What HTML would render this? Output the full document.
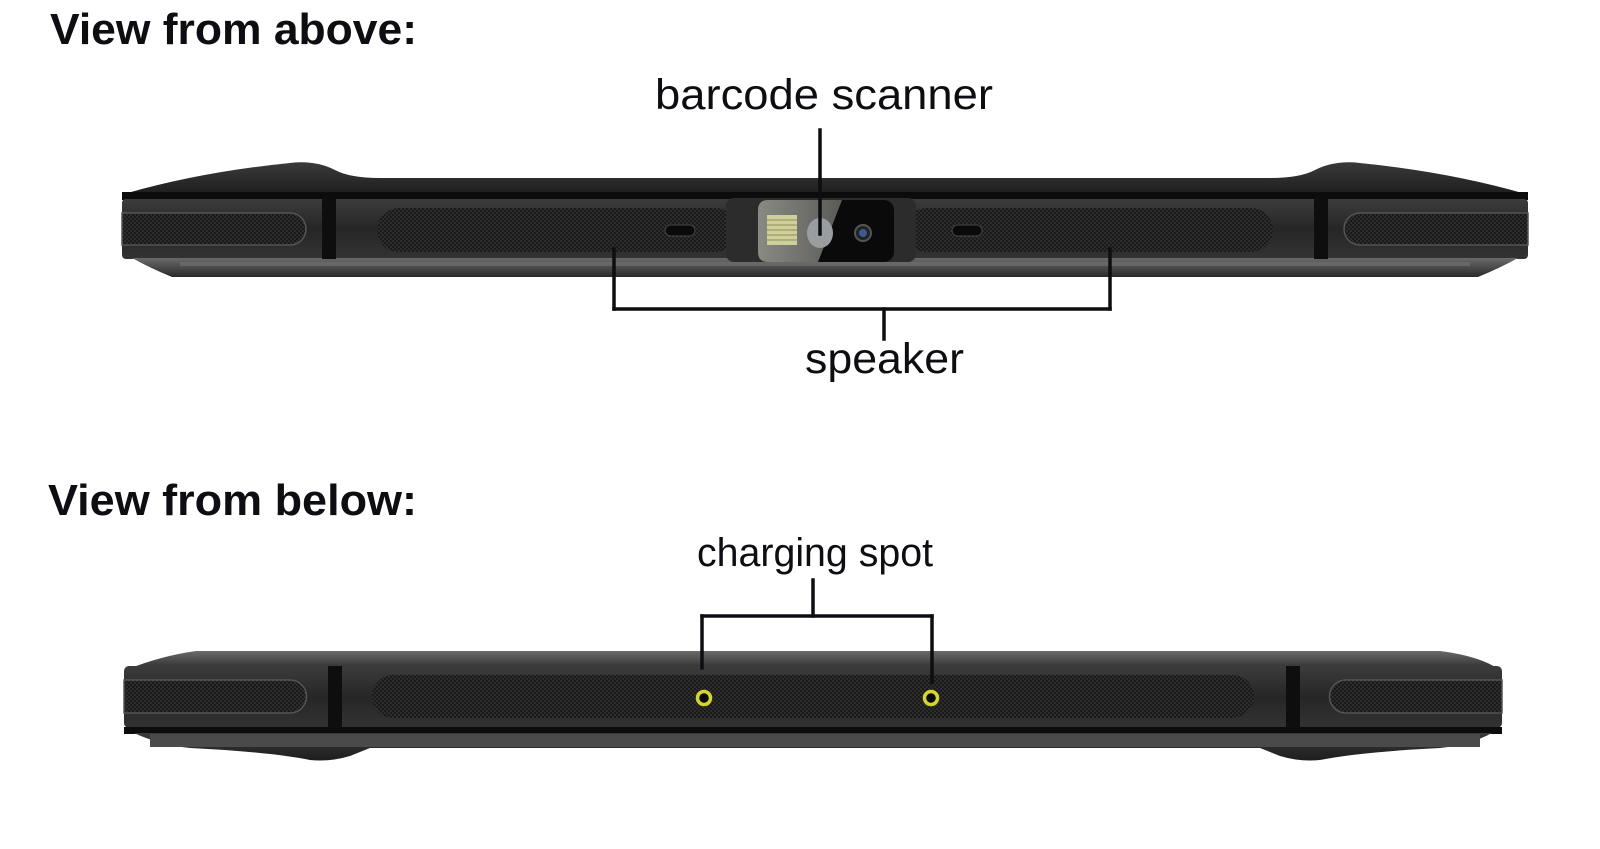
<!DOCTYPE html>
<html><head><meta charset="utf-8"><style>
html,body{margin:0;padding:0;background:#fff;}
svg{display:block}
text{font-family:"Liberation Sans",sans-serif;fill:#0d0d12;}
</style></head><body>
<svg width="1600" height="849" viewBox="0 0 1600 849" xmlns="http://www.w3.org/2000/svg">
<defs>
<pattern id="mesh" width="4" height="4" patternUnits="userSpaceOnUse">
<rect width="4" height="4" fill="#1a1a1a"/><circle cx="1" cy="1" r="0.9" fill="#3a3a3a"/><circle cx="3" cy="3" r="0.9" fill="#3a3a3a"/>
</pattern>
<linearGradient id="topsurf" x1="0" y1="0" x2="0" y2="1">
<stop offset="0" stop-color="#3a3a3a"/><stop offset="1" stop-color="#1e1e1e"/></linearGradient>
<linearGradient id="band" x1="0" y1="0" x2="0" y2="1">
<stop offset="0" stop-color="#3c3c3c"/><stop offset="0.5" stop-color="#262626"/><stop offset="1" stop-color="#333"/></linearGradient>
<linearGradient id="lip" x1="0" y1="0" x2="0" y2="1">
<stop offset="0" stop-color="#6a6a6a"/><stop offset="0.5" stop-color="#4a4a4a"/><stop offset="1" stop-color="#2a2a2a"/></linearGradient>
<linearGradient id="win" x1="0" y1="0" x2="1" y2="0">
<stop offset="0" stop-color="#8a8a84"/><stop offset="1" stop-color="#5a5a58"/></linearGradient>
</defs>

<text x="50" y="44" font-size="44" font-weight="bold" textLength="367" lengthAdjust="spacingAndGlyphs">View from above:</text>
<text x="655" y="109" font-size="43" textLength="338" lengthAdjust="spacingAndGlyphs">barcode scanner</text>
<text x="805" y="373" font-size="43" textLength="159" lengthAdjust="spacingAndGlyphs">speaker</text>
<text x="48" y="515" font-size="44" font-weight="bold" textLength="369" lengthAdjust="spacingAndGlyphs">View from below:</text>
<text x="697" y="566" font-size="40" textLength="236" lengthAdjust="spacingAndGlyphs">charging spot</text>

<path d="M124 194 Q200 172 290 163 Q315 160 335 170 Q350 178 380 178 L1270 178 Q1300 178 1315 170 Q1335 160 1360 163 Q1450 172 1526 194 Z" fill="url(#topsurf)"/>
<rect x="122" y="192" width="1406" height="8" fill="#0c0c0c"/>
<rect x="122" y="199" width="1406" height="60" rx="4" fill="url(#band)"/>
<path d="M132 258 L1518 258 Q1500 268 1478 277 L172 277 Q150 268 132 258 Z" fill="url(#lip)"/>
<rect x="180" y="262" width="1290" height="4" fill="#7a7a7a" opacity="0.5"/>
<path d="M122 213 L290 213 A16 16 0 0 1 290 245 L122 245 Z" fill="url(#mesh)" stroke="#555" stroke-width="1.5"/>
<path d="M1528 213 L1360 213 A16 16 0 0 0 1360 245 L1528 245 Z" fill="url(#mesh)" stroke="#555" stroke-width="1.5"/>
<rect x="322" y="199" width="14" height="60" fill="#0e0e0e"/>
<rect x="1314" y="199" width="14" height="60" fill="#0e0e0e"/>
<rect x="377" y="208" width="360" height="44" rx="22" fill="url(#mesh)"/>
<rect x="905" y="208" width="368" height="44" rx="22" fill="url(#mesh)"/>
<rect x="665" y="225" width="30" height="11" rx="5.5" fill="#0a0a0a" stroke="#444"/>
<rect x="952" y="225" width="30" height="11" rx="5.5" fill="#0a0a0a" stroke="#444"/>
<rect x="726" y="198" width="190" height="64" rx="8" fill="#2c2c2c"/>
<rect x="758" y="200" width="136" height="62" rx="10" fill="#0a0a0a"/>
<path d="M768 200 L842 200 L818 262 L768 262 Q758 262 758 252 L758 210 Q758 200 768 200 Z" fill="url(#win)"/>
<rect x="767" y="215" width="30" height="30" fill="#cfcf98"/>
<g stroke="#8e8e60" stroke-width="1">
<line x1="767" y1="220" x2="797" y2="220"/><line x1="767" y1="225" x2="797" y2="225"/><line x1="767" y1="230" x2="797" y2="230"/><line x1="767" y1="235" x2="797" y2="235"/><line x1="767" y1="240" x2="797" y2="240"/>
</g>
<ellipse cx="820" cy="233" rx="13" ry="15" fill="#9a9da0"/>
<circle cx="863" cy="233" r="8" fill="#222" stroke="#555" stroke-width="2"/>
<circle cx="863" cy="233" r="4" fill="#3a5a90"/>

<g stroke="#0d0d12" stroke-width="3.5" fill="none" stroke-linecap="square">
<line x1="820" y1="130" x2="820" y2="234"/>
<line x1="614" y1="249" x2="614" y2="309"/>
<line x1="1110" y1="249" x2="1110" y2="309"/>
<line x1="614" y1="309" x2="1110" y2="309"/>
<line x1="884" y1="309" x2="884" y2="339"/>
</g>

<path d="M126 670 Q160 656 196 651 L1440 651 Q1480 656 1500 670 Z" fill="url(#lip)"/>
<rect x="124" y="666" width="1378" height="62" rx="5" fill="url(#band)"/>
<rect x="124" y="727" width="1378" height="7" fill="#0c0c0c"/>
<path d="M134 733 L1492 733 Q1470 745 1440 748 Q1360 752 1320 760 Q1300 762 1280 756 L1260 748 L370 748 L350 756 Q330 762 310 760 Q270 752 190 748 Q160 745 134 733 Z" fill="url(#topsurf)"/>
<rect x="150" y="734" width="1330" height="13" fill="#4a4a4a"/>
<path d="M124 680 L290 680 A16.5 16.5 0 0 1 290 713 L124 713 Z" fill="url(#mesh)" stroke="#555" stroke-width="1.5"/>
<path d="M1502 680 L1346 680 A16.5 16.5 0 0 0 1346 713 L1502 713 Z" fill="url(#mesh)" stroke="#555" stroke-width="1.5"/>
<rect x="328" y="666" width="14" height="62" fill="#0e0e0e"/>
<rect x="1286" y="666" width="14" height="62" fill="#0e0e0e"/>
<rect x="372" y="675" width="882" height="43" rx="21.5" fill="url(#mesh)"/>
<circle cx="704" cy="698" r="6.5" fill="#080808" stroke="#d4d62a" stroke-width="3.5"/>
<circle cx="931" cy="698" r="6.5" fill="#080808" stroke="#d4d62a" stroke-width="3.5"/>

<g stroke="#0d0d12" stroke-width="3.5" fill="none" stroke-linecap="square">
<line x1="813" y1="580" x2="813" y2="616"/>
<line x1="702" y1="616" x2="932" y2="616"/>
<line x1="702" y1="616" x2="702" y2="668"/>
<line x1="932" y1="616" x2="932" y2="682"/>
</g>
</svg>
</body></html>
